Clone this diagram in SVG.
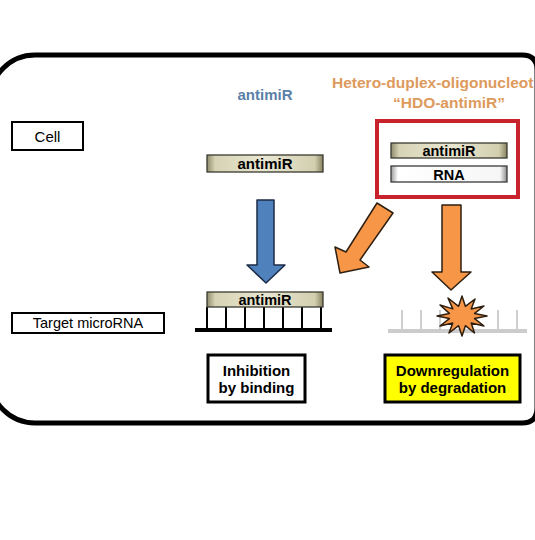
<svg xmlns="http://www.w3.org/2000/svg" width="535" height="540" viewBox="0 0 535 540">
<defs>
<linearGradient id="khaki" x1="0" y1="0" x2="1" y2="0">
<stop offset="0" stop-color="#8f8b6c"/>
<stop offset="0.07" stop-color="#d6d3b5"/>
<stop offset="0.5" stop-color="#e9e7d2"/>
<stop offset="0.93" stop-color="#d2cfb0"/>
<stop offset="1" stop-color="#86825f"/>
</linearGradient>
<linearGradient id="white" x1="0" y1="0" x2="1" y2="0">
<stop offset="0" stop-color="#9a9a9a"/>
<stop offset="0.06" stop-color="#ffffff"/>
<stop offset="0.94" stop-color="#f6f6f6"/>
<stop offset="1" stop-color="#8c8c8c"/>
</linearGradient>
<style>
text{font-family:"Liberation Sans",Arial,sans-serif;}
.lbl{font-size:15px;fill:#000;text-anchor:middle;}
.b{font-weight:bold;}
.box{fill:#fff;stroke:#000;stroke-width:2;}
.bar{fill:url(#khaki);stroke:#3a3a30;stroke-width:1.3;}
.rna{fill:url(#white);stroke:#3a3a3a;stroke-width:1.3;}
.orange{fill:#f79646;stroke:#2e1f10;stroke-width:1.5;stroke-linejoin:round;}
.blue{fill:#4f81bd;stroke:#1c2b45;stroke-width:1.5;stroke-linejoin:round;}
.tooth{stroke:#000;stroke-width:2;}
.gtooth{stroke:#cfcfcf;stroke-width:2;}
</style>
</defs>
<rect width="535" height="540" fill="#fff"/>
<g id="cell-outline">
<path d="M35,55 H522 Q537,55 537,70 V408 Q537,423 522,423 H35 A45,45 0 0 1 -10,378 V100 A45,45 0 0 1 35,55 Z" fill="none" stroke="#000" stroke-width="5"/>
</g>
<g id="cell-label">
<rect class="box" x="12" y="122" width="71" height="28"/>
<text class="lbl" x="47.5" y="142">Cell</text>
</g>
<g id="target-label">
<rect class="box" x="12" y="313" width="152" height="20"/>
<text class="lbl" x="88" y="328" style="font-size:14.5px">Target microRNA</text>
</g>
<g id="antimir-title">
<text class="b" x="265" y="100" text-anchor="middle" style="font-size:15px;fill:#5a7fa8">antimiR</text>
</g>
<g id="hdo-title">
<text class="b" x="332" y="88" style="font-size:15.5px;fill:#dd9a5c">Hetero-duplex-oligonucleot</text>
<text class="b" x="449" y="108" text-anchor="middle" style="font-size:15.5px;fill:#dd9a5c">“HDO-antimiR”</text>
</g>
<g id="antimir-free">
<rect class="bar" x="207" y="155" width="116" height="17"/>
<text class="lbl b" x="265" y="169">antimiR</text>
</g>
<g id="hdo-antimir">
<rect x="377" y="121" width="141" height="76" fill="none" stroke="#c8232c" stroke-width="4"/>
<rect class="bar" x="391" y="143" width="116" height="15"/>
<text class="lbl b" x="449" y="156" style="font-size:14.5px">antimiR</text>
<rect class="rna" x="391" y="166" width="116" height="16"/>
<text class="lbl b" x="449" y="180" style="font-size:14.5px">RNA</text>
</g>
<g id="connectors">
<polygon class="blue" points="257,200 274,200 274,265 285,265 266,283 247,265 257,265"/>
<polygon class="orange" points="377,203 393,213 360,260 369,267 340,273 335,247 346,252"/>
<polygon class="orange" points="442,205 461,205 461,272 471,272 451,290 432,272 442,272"/>
</g>
<g id="bound-microrna">
<line class="tooth" x1="207" y1="307" x2="207" y2="330"/>
<line class="tooth" x1="226" y1="307" x2="226" y2="330"/>
<line class="tooth" x1="245" y1="307" x2="245" y2="330"/>
<line class="tooth" x1="264" y1="307" x2="264" y2="330"/>
<line class="tooth" x1="283" y1="307" x2="283" y2="330"/>
<line class="tooth" x1="302" y1="307" x2="302" y2="330"/>
<line class="tooth" x1="321" y1="307" x2="321" y2="330"/>
<line x1="195" y1="330" x2="332" y2="330" stroke="#000" stroke-width="4"/>
<rect class="bar" x="207" y="292" width="116" height="15"/>
<text class="lbl b" x="265" y="305" style="font-size:14.5px">antimiR</text>
</g>
<g id="degraded-microrna">
<line class="gtooth" x1="402" y1="310" x2="402" y2="331"/>
<line class="gtooth" x1="421" y1="310" x2="421" y2="331"/>
<line class="gtooth" x1="440" y1="310" x2="440" y2="331"/>
<line class="gtooth" x1="498" y1="310" x2="498" y2="331"/>
<line class="gtooth" x1="517" y1="310" x2="517" y2="331"/>
<line x1="388" y1="331" x2="527" y2="331" stroke="#cccccc" stroke-width="4"/>
<polygon class="orange" points="487,316 474.6,318.6 484,326 471.2,323.1 474.5,333 465.4,325.7 462,336 458.6,325.7 449,333 452.8,323.1 440,326 449.4,318.6 437,316 449.4,313.4 440,305 452.8,308.9 448,298 458.6,306.3 462,296 465.4,306.3 475,299 471.2,308.9 484,306 474.6,313.4"/>
</g>
<g id="inhibition">
<rect x="208" y="355" width="97" height="47" fill="#fff" stroke="#000" stroke-width="3"/>
<text class="lbl b" x="256.5" y="376">Inhibition</text>
<text class="lbl b" x="256.5" y="393">by binding</text>
</g>
<g id="downregulation">
<rect x="385" y="355" width="135" height="47" fill="#ffff00" stroke="#000" stroke-width="3"/>
<text class="lbl b" x="452.5" y="376">Downregulation</text>
<text class="lbl b" x="452.5" y="393">by degradation</text>
</g>
</svg>
